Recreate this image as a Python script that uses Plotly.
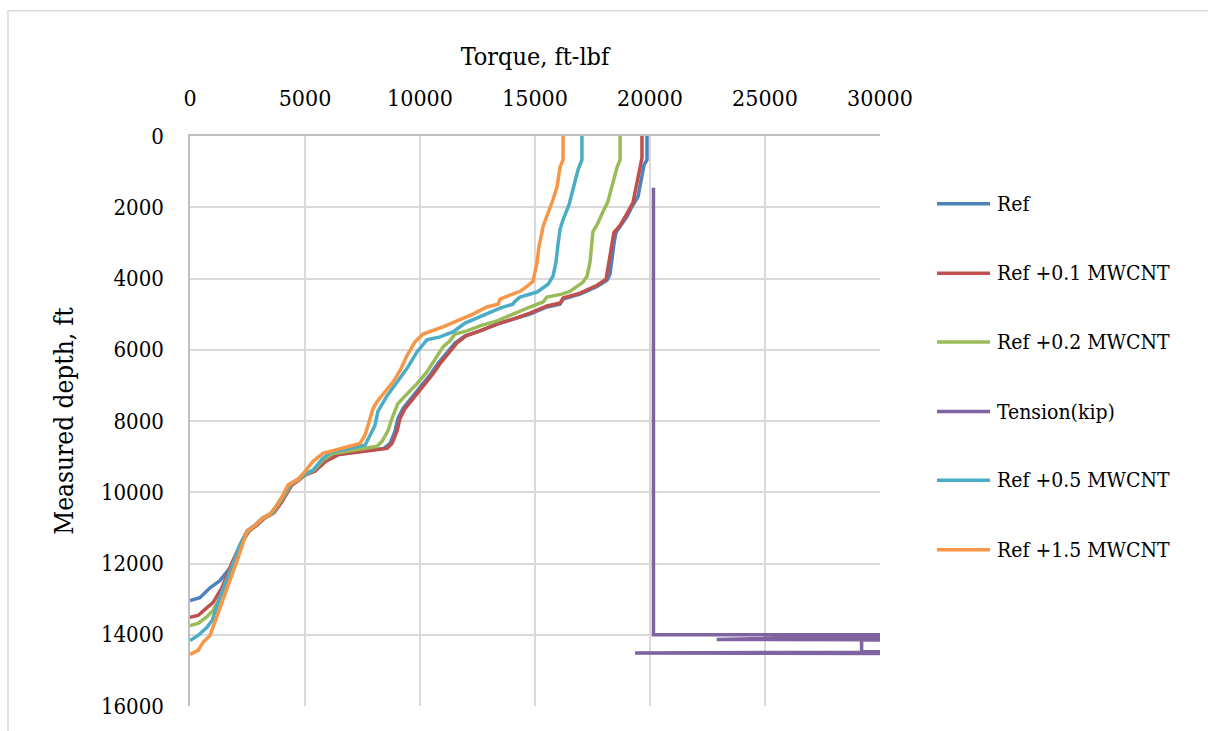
import plotly.graph_objects as go

# Torque (ft-lbf) vs measured depth (ft) for each fluid formulation
ref_torque = [19870, 19870, 19740, 19565, 19480, 19220, 19000, 18700, 18520, 18430, 18350, 18260,
              18130, 17700, 16960, 16220, 16090, 15520, 14780, 14040, 13350, 12610, 11960, 11520,
              11090, 10780, 10480, 10130, 9740, 9260, 9040, 8910, 8700, 8430, 6390, 5780, 5350,
              4910, 4650, 4350, 4130, 3870, 3570, 3170, 2830, 2480, 2170, 1740, 1300, 870, 430, 0]
ref_depth = [0, 670, 810, 1370, 1700, 1980, 2260, 2540, 2710, 3040, 3550, 3880,
             4050, 4220, 4440, 4580, 4720, 4800, 5000, 5140, 5280, 5470, 5610, 5810,
             6140, 6390, 6670, 6950, 7290, 7650, 7930, 8290, 8630, 8770, 8940, 9130, 9410,
             9520, 9660, 9770, 10020, 10300, 10580, 10720, 10920, 11090, 11480, 12120, 12480, 12680, 12960, 13040]

mw01_torque = [19650, 19650, 19565, 19390, 19260, 19000, 18700, 18430, 18300, 18220, 18090, 17700,
               16960, 16220, 16090, 15520, 14780, 14040, 13350, 12610, 12000, 11610, 11170, 10870,
               10570, 10220, 9830, 9350, 9130, 9000, 8780, 8570, 6480, 5910, 5430, 5000, 4740,
               4430, 4220, 3960, 3650, 3260, 2910, 2570, 2300, 1830, 1390, 1000, 740, 350, 0]
mw01_depth = [0, 610, 890, 1450, 1870, 2180, 2510, 2710, 3180, 3600, 4020, 4190,
              4410, 4550, 4690, 4770, 4970, 5140, 5280, 5470, 5610, 5810, 6140, 6390,
              6670, 6950, 7290, 7650, 7930, 8290, 8630, 8770, 8940, 9130, 9410, 9520, 9660,
              9800, 10020, 10300, 10580, 10720, 10920, 11090, 11360, 11980, 12680, 13100, 13240, 13460, 13510]

mw02_torque = [18700, 18700, 18570, 18350, 18170, 17960, 17700, 17520, 17480, 17390, 17260, 17090,
               16520, 16170, 15520, 15350, 14780, 14040, 13350, 12610, 12040, 11520, 11300, 11000,
               10740, 10300, 9870, 9430, 9040, 8780, 8610, 8350, 8130, 6220, 5780, 5390, 4960,
               4700, 4390, 4170, 3910, 3610, 3220, 2870, 2520, 2220, 1740, 1300, 1000, 740, 350, 0]
mw02_depth = [0, 670, 870, 1420, 1840, 2120, 2490, 2680, 2990, 3550, 3940, 4100,
              4360, 4440, 4520, 4660, 4800, 5000, 5190, 5330, 5470, 5560, 5750, 5920,
              6170, 6620, 6950, 7230, 7510, 7930, 8270, 8570, 8710, 8910, 9100, 9380, 9520,
              9660, 9770, 10020, 10300, 10580, 10720, 10920, 11090, 11420, 12260, 12960, 13320, 13490, 13680, 13740]

mw05_torque = [17040, 17040, 16870, 16650, 16480, 16220, 16090, 16000, 15910, 15780, 15570, 15090,
               14350, 14130, 14040, 13480, 12610, 11960, 11430, 10870, 10300, 9870, 9430, 9000,
               8570, 8170, 8040, 7830, 7610, 6090, 5740, 5350, 4910, 4650, 4350, 4130, 3870,
               3570, 3170, 2830, 2480, 2170, 1740, 1300, 960, 740, 350, 0]
mw05_depth = [0, 670, 950, 1510, 1930, 2350, 2620, 3040, 3550, 3940, 4160, 4380,
              4520, 4640, 4720, 4830, 5080, 5250, 5500, 5640, 5720, 6060, 6530, 6900,
              7290, 7730, 8130, 8400, 8680, 8880, 9070, 9380, 9520, 9660, 9770, 10020, 10300,
              10580, 10720, 10920, 11090, 11510, 12260, 12960, 13600, 13790, 14020, 14160]

mw15_torque = [16220, 16220, 16090, 15960, 15780, 15570, 15350, 15300, 15170, 15090, 15000, 14910,
               14650, 14350, 13780, 13480, 13390, 12910, 12300, 11610, 11000, 10130, 9780, 9430,
               9130, 8830, 8390, 8130, 7960, 7830, 7610, 7390, 5780, 5350, 4910, 4650, 4260,
               4040, 3780, 3480, 3170, 2700, 2480, 2090, 1610, 1170, 870, 570, 350, 0]
mw15_depth = [0, 670, 870, 1420, 1790, 2150, 2540, 2710, 3100, 3550, 3880, 4080,
              4220, 4360, 4500, 4580, 4720, 4800, 5000, 5190, 5360, 5560, 5780, 6170,
              6590, 6900, 7230, 7460, 7650, 7930, 8400, 8630, 8910, 9130, 9490, 9660, 9800,
              10080, 10360, 10610, 10720, 11000, 11090, 11840, 12680, 13510, 14020, 14210, 14440, 14550]

# Tension series plotted on the same axes (runs off the right edge)
tension_x = [20150, 20150, 34000, 22900, 34000, 29200, 29200, 34000, 19350, 34000]
tension_depth = [1450, 14000, 14000, 14130, 14150, 14150, 14480, 14480, 14510, 14530]

series_names = ["Ref", "Ref +0.1 MWCNT", "Ref +0.2 MWCNT", "Tension(kip)",
                "Ref +0.5 MWCNT", "Ref +1.5 MWCNT"]
series_colors = ["#4F81BD", "#C0504D", "#9BBB59", "#8064A2", "#4BACC6", "#F79646"]
series_data = [(ref_torque, ref_depth), (mw01_torque, mw01_depth), (mw02_torque, mw02_depth),
               (tension_x, tension_depth), (mw05_torque, mw05_depth), (mw15_torque, mw15_depth)]

x_ticks = [0, 5000, 10000, 15000, 20000, 25000, 30000]
y_ticks = [0, 2000, 4000, 6000, 8000, 10000, 12000, 14000, 16000]

FONT = "DejaVu Serif Condensed, DejaVu Serif"
W, H = 1208, 731
PL, PR, PT, PB = 190, 880, 136, 709  # plot area in pixels


def px_x(px):
    return (px - PL) / (PR - PL)


def px_y(py):
    return (PB - py) / (PB - PT)


fig = go.Figure()
for name, color, (xs, ys) in zip(series_names, series_colors, series_data):
    fig.add_trace(go.Scatter(x=xs, y=ys, mode="lines", name=name,
                             line=dict(color=color, width=3.5), showlegend=False))

# Legend drawn beside the plot
legend_rows = [204, 274, 343, 413, 482, 552]
shapes = []
annotations = []
for name, color, row in zip(series_names, series_colors, legend_rows):
    shapes.append(dict(type="line", xref="paper", yref="paper",
                       x0=px_x(937), x1=px_x(990), y0=px_y(row), y1=px_y(row),
                       line=dict(color=color, width=3.5)))
    annotations.append(dict(xref="paper", yref="paper", x=px_x(995), y=px_y(row),
                            xanchor="left", yanchor="middle", showarrow=False, text=name,
                            font=dict(family=FONT, size=21, color="black")))

# Outer chart border
shapes.append(dict(type="rect", xref="paper", yref="paper",
                   x0=px_x(8), x1=px_x(1230), y0=px_y(750), y1=px_y(10),
                   line=dict(color="#D9D9D9", width=1.5), layer="below"))

fig.update_layout(
    width=W, height=H,
    margin=dict(l=PL, r=W - PR, t=PT, b=H - PB),
    paper_bgcolor="white", plot_bgcolor="white",
    shapes=shapes, annotations=annotations,
    font=dict(family=FONT, color="black"),
)
fig.update_xaxes(
    range=[0, 30000], side="top", tickvals=x_ticks, tickformat="d",
    showgrid=True, gridcolor="#D9D9D9", gridwidth=1.5, zeroline=False,
    showline=True, linecolor="#BFBFBF", linewidth=1.5,
    ticks="outside", ticklen=19, tickcolor="rgba(0,0,0,0)",
    tickfont=dict(family=FONT, size=23, color="black"),
    title=dict(text="Torque, ft-lbf", font=dict(family=FONT, size=25, color="black"), standoff=12),
)
fig.update_yaxes(
    range=[16000, 0], tickvals=y_ticks, tickformat="d",
    showgrid=True, gridcolor="#D9D9D9", gridwidth=1.5, zeroline=False,
    showline=True, linecolor="#BFBFBF", linewidth=1.5,
    ticks="outside", ticklen=20, tickcolor="rgba(0,0,0,0)",
    tickfont=dict(family=FONT, size=22, color="black"),
    title=dict(text="Measured depth, ft", font=dict(family=FONT, size=26, color="black"), standoff=20),
)

fig.write_html("out.html")
